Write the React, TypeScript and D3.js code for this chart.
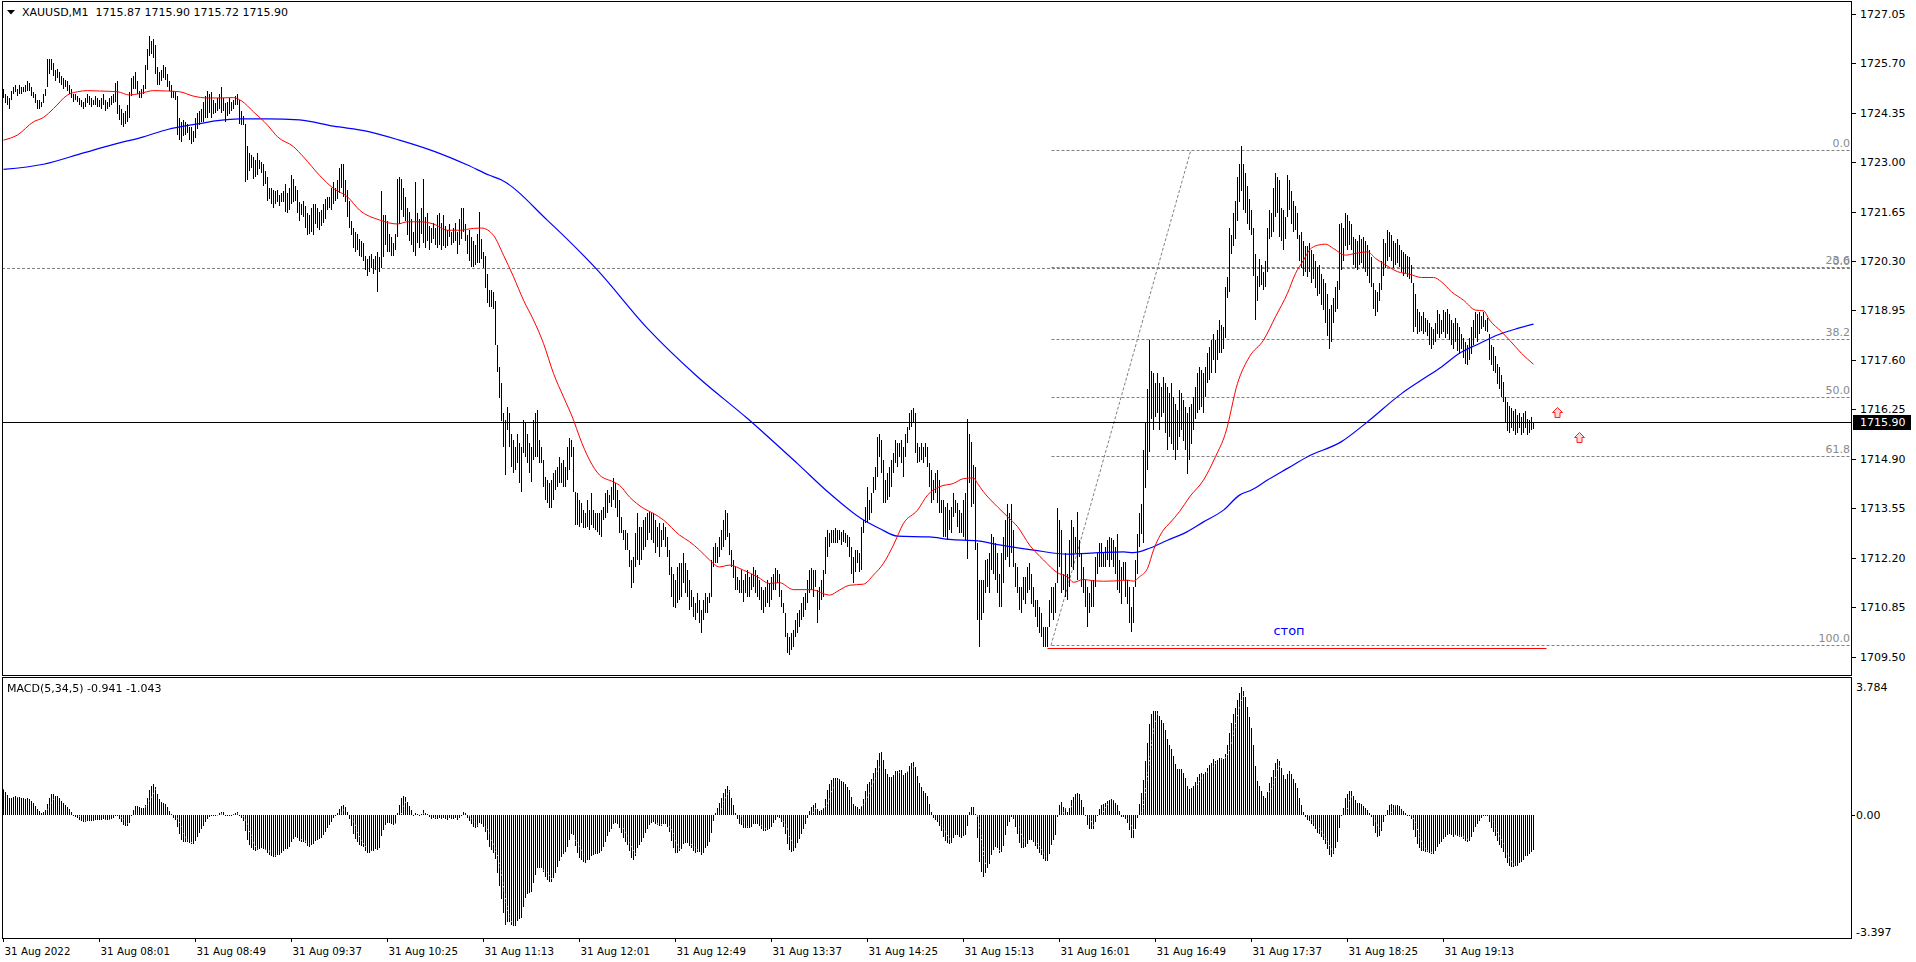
import React, { useEffect } from 'react';
import * as d3 from 'd3';

// ---------- price bars [high, low], one per minute, bar index 0..765 ----------
const bars000: [number, number][] = [
  [1725.0,1724.75],[1724.85,1724.6],[1724.8,1724.55],[1724.75,1724.45],[1724.95,1724.7],[1725.05,1724.85],[1725.1,1724.9],[1725.0,1724.8],[1725.1,1724.85],[1725.05,1724.85],
  [1725.05,1724.9],[1725.1,1724.9],[1725.2,1724.95],[1725.15,1724.95],[1725.05,1724.8],[1724.9,1724.75],[1724.85,1724.6],[1724.7,1724.45],[1724.7,1724.45],[1724.65,1724.5],
  [1724.85,1724.6],[1725.0,1724.8],[1725.8,1725.05],[1725.8,1725.4],[1725.8,1725.5],[1725.7,1725.35],[1725.5,1725.2],[1725.55,1725.3],[1725.45,1725.15],[1725.35,1725.1],
  [1725.3,1725.0],[1725.25,1725.05],[1725.2,1724.95],[1725.1,1724.85],[1725.0,1724.75],[1724.85,1724.65],[1724.85,1724.7],[1724.8,1724.65],[1724.75,1724.55],[1724.7,1724.5],
  [1724.65,1724.45],[1724.75,1724.5],[1724.85,1724.6],[1724.8,1724.55],[1724.75,1724.5],[1724.7,1724.55],[1724.8,1724.55],[1724.75,1724.5],[1724.7,1724.5],[1724.75,1724.45],
];
const bars050: [number, number][] = [
  [1724.85,1724.55],[1724.7,1724.4],[1724.65,1724.45],[1724.75,1724.5],[1724.8,1724.55],[1724.85,1724.6],[1725.15,1724.65],[1725.2,1724.3],[1724.55,1724.15],[1724.45,1724.0],
  [1724.35,1723.95],[1724.4,1724.05],[1724.55,1724.1],[1724.9,1724.2],[1725.3,1724.8],[1725.35,1725.0],[1725.45,1725.0],[1725.2,1724.85],[1724.95,1724.75],[1725.0,1724.75],
  [1725.1,1724.85],[1725.65,1725.0],[1726.1,1725.5],[1726.45,1725.9],[1726.3,1725.95],[1726.35,1725.85],[1726.2,1725.4],[1725.6,1725.1],[1725.45,1725.1],[1725.5,1725.2],
  [1725.65,1725.3],[1725.6,1725.25],[1725.4,1725.05],[1725.2,1724.95],[1725.1,1724.75],[1724.95,1724.75],[1724.9,1724.7],[1724.8,1723.75],[1724.2,1723.6],[1724.1,1723.55],
  [1724.15,1723.7],[1724.1,1723.75],[1724.05,1723.8],[1723.95,1723.6],[1723.95,1723.5],[1723.85,1723.55],[1724.2,1723.65],[1724.35,1723.9],[1724.4,1724.0],[1724.45,1724.1],
];
const bars100: [number, number][] = [
  [1724.65,1724.1],[1724.8,1724.2],[1724.95,1724.2],[1724.85,1724.35],[1724.9,1724.2],[1724.7,1724.3],[1724.6,1724.35],[1724.75,1724.4],[1724.85,1724.45],[1725.05,1724.35],
  [1724.75,1724.4],[1724.6,1724.1],[1724.65,1724.25],[1724.75,1724.3],[1724.65,1724.4],[1724.7,1724.45],[1724.8,1724.55],[1724.85,1724.55],[1724.7,1724.05],[1724.4,1724.0],
  [1724.25,1724.0],[1724.05,1722.45],[1723.45,1722.5],[1723.25,1722.75],[1723.2,1722.85],[1723.15,1722.55],[1723.05,1722.6],[1723.25,1722.65],[1723.05,1722.8],[1723.0,1722.7],
  [1722.95,1722.35],[1722.75,1722.4],[1722.6,1721.95],[1722.3,1722.0],[1722.3,1721.85],[1722.25,1721.75],[1722.2,1721.85],[1722.25,1721.9],[1722.1,1721.8],[1722.15,1721.9],
  [1722.2,1721.9],[1722.4,1721.65],[1722.15,1721.6],[1722.3,1721.7],[1722.65,1721.85],[1722.55,1721.9],[1722.35,1721.95],[1722.25,1721.6],[1721.9,1721.4],[1721.85,1721.55],
];
const bars150: [number, number][] = [
  [1721.95,1721.5],[1721.8,1721.2],[1721.6,1721.0],[1721.55,1721.05],[1721.75,1721.1],[1721.85,1721.0],[1721.85,1721.3],[1721.75,1721.2],[1721.65,1721.15],[1721.7,1721.25],
  [1721.85,1721.35],[1722.0,1721.45],[1722.05,1721.7],[1722.05,1721.75],[1722.3,1721.7],[1722.45,1721.85],[1722.3,1721.95],[1722.5,1722.0],[1722.85,1722.15],[1722.95,1722.3],
  [1722.95,1722.05],[1722.5,1721.9],[1722.25,1721.5],[1721.95,1721.2],[1721.4,1721.0],[1721.2,1720.65],[1721.1,1720.55],[1721.05,1720.6],[1720.9,1720.45],[1720.85,1720.4],
  [1720.8,1720.3],[1720.45,1720.05],[1720.35,1719.9],[1720.45,1720.0],[1720.5,1720.1],[1720.35,1719.95],[1720.45,1720.05],[1720.55,1719.45],[1720.4,1720.0],[1722.2,1720.1],
  [1721.55,1720.4],[1721.55,1720.75],[1721.4,1720.55],[1721.05,1720.55],[1720.95,1720.45],[1720.8,1720.45],[1721.05,1720.6],[1722.55,1720.95],[1722.6,1721.3],[1722.55,1721.7],
];
const bars200: [number, number][] = [
  [1722.3,1721.5],[1722.05,1721.4],[1721.75,1721.0],[1721.65,1720.85],[1721.45,1720.75],[1721.1,1720.55],[1722.45,1720.45],[1721.6,1720.8],[1721.45,1720.65],[1721.75,1721.05],
  [1722.55,1720.8],[1721.5,1720.65],[1721.6,1720.85],[1721.25,1720.6],[1721.2,1720.8],[1721.35,1720.9],[1721.2,1720.75],[1721.55,1720.65],[1721.6,1720.75],[1721.35,1720.6],
  [1721.55,1720.7],[1721.25,1720.65],[1721.15,1720.7],[1721.3,1720.95],[1721.1,1720.75],[1721.2,1720.8],[1721.35,1720.85],[1721.1,1720.5],[1721.45,1720.75],[1721.75,1720.9],
  [1721.75,1721.1],[1721.3,1720.85],[1721.0,1720.5],[1721.15,1720.3],[1720.95,1720.15],[1720.85,1720.15],[1720.75,1720.2],[1721.05,1720.25],[1721.65,1720.25],[1720.9,1720.35],
  [1720.55,1720.1],[1720.45,1719.55],[1719.95,1719.15],[1719.5,1719.05],[1719.5,1719.05],[1719.45,1719.0],[1719.2,1718.0],[1718.0,1717.28],[1717.41,1716.55],[1716.96,1715.93],
];
const bars250: [number, number][] = [
  [1716.14,1715.23],[1715.96,1714.46],[1716.32,1715.69],[1716.14,1715.23],[1715.59,1714.69],[1715.41,1714.51],[1715.23,1714.6],[1715.59,1714.78],[1715.32,1714.23],[1715.23,1714.0],
  [1715.96,1715.05],[1715.87,1714.96],[1715.59,1714.78],[1715.32,1714.51],[1715.23,1714.28],[1715.96,1714.87],[1716.14,1714.96],[1716.23,1714.96],[1715.41,1714.78],[1715.23,1714.78],
  [1714.87,1714.14],[1714.41,1713.78],[1714.32,1713.69],[1714.23,1713.55],[1714.32,1713.55],[1714.51,1713.78],[1714.6,1714.05],[1714.69,1714.14],[1714.96,1714.23],[1714.78,1714.23],
  [1714.87,1714.14],[1714.69,1714.14],[1715.23,1714.32],[1715.46,1714.6],[1715.41,1714.96],[1715.23,1714.0],[1714.0,1713.09],[1713.96,1713.09],[1713.78,1713.05],[1713.69,1713.14],
  [1713.51,1713.0],[1713.41,1713.0],[1713.78,1713.05],[1713.51,1712.96],[1713.96,1713.09],[1713.51,1713.0],[1713.41,1712.96],[1713.41,1712.91],[1713.41,1712.82],[1713.51,1712.78],
];
const bars300: [number, number][] = [
  [1713.59,1713.23],[1713.96,1713.28],[1714.05,1713.41],[1713.91,1713.69],[1714.14,1713.59],[1714.37,1713.78],[1714.23,1713.55],[1714.05,1713.32],[1713.78,1712.87],[1713.32,1712.87],
  [1712.96,1712.68],[1712.96,1712.41],[1712.87,1712.41],[1712.41,1711.95],[1712.14,1711.37],[1712.23,1711.5],[1712.87,1711.95],[1713.41,1712.14],[1713.05,1712.0],[1713.05,1712.14],
  [1713.23,1712.41],[1713.32,1712.5],[1713.41,1712.68],[1713.46,1712.87],[1713.41,1712.68],[1713.41,1712.59],[1713.23,1712.32],[1713.05,1712.5],[1713.14,1712.23],[1712.96,1712.5],
  [1713.14,1712.68],[1713.05,1712.5],[1712.78,1712.23],[1712.41,1711.73],[1711.95,1711.14],[1711.77,1710.86],[1711.59,1710.82],[1711.95,1710.96],[1712.05,1711.04],[1712.05,1711.14],
  [1712.32,1711.5],[1712.05,1711.23],[1711.87,1711.14],[1711.59,1710.77],[1711.32,1710.86],[1711.14,1710.59],[1710.96,1710.5],[1711.23,1710.68],[1711.04,1710.41],[1710.77,1710.14],
];
const bars350: [number, number][] = [
  [1711.04,1710.5],[1711.23,1710.68],[1711.14,1710.68],[1711.23,1710.96],[1712.14,1711.14],[1712.5,1711.95],[1712.59,1712.05],[1712.5,1712.05],[1712.78,1712.23],[1712.96,1712.41],
  [1713.23,1712.5],[1713.51,1712.68],[1713.41,1712.78],[1712.87,1712.27],[1712.41,1711.95],[1712.14,1711.64],[1711.95,1711.32],[1711.68,1711.32],[1711.59,1711.23],[1711.87,1711.23],
  [1711.59,1711.0],[1711.77,1711.23],[1711.87,1711.14],[1711.68,1711.14],[1711.77,1711.32],[1711.95,1711.41],[1711.87,1711.23],[1711.73,1711.14],[1711.59,1711.04],[1711.41,1710.77],
  [1711.32,1710.68],[1711.41,1710.86],[1711.59,1710.96],[1711.5,1710.86],[1711.68,1711.04],[1711.77,1711.32],[1711.91,1711.32],[1711.87,1711.5],[1711.77,1711.14],[1711.32,1710.86],
  [1710.96,1710.68],[1710.68,1710.05],[1710.14,1709.59],[1710.05,1709.55],[1710.14,1709.68],[1710.23,1709.77],[1710.5,1710.05],[1710.68,1710.14],[1710.77,1710.32],[1710.96,1710.5],
];
const bars400: [number, number][] = [
  [1711.14,1710.59],[1711.23,1710.77],[1711.59,1710.96],[1711.87,1711.23],[1711.91,1711.32],[1711.87,1711.14],[1711.87,1711.41],[1711.32,1710.41],[1711.41,1710.77],[1711.59,1711.04],
  [1711.87,1711.14],[1712.78,1711.77],[1712.96,1712.23],[1712.87,1712.5],[1712.96,1712.59],[1712.96,1712.59],[1713.0,1712.59],[1712.96,1712.59],[1712.96,1712.68],[1712.91,1712.55],
  [1712.96,1712.64],[1712.87,1712.59],[1712.82,1712.5],[1712.78,1712.23],[1712.5,1711.77],[1712.23,1711.5],[1712.41,1711.82],[1712.41,1712.05],[1712.32,1711.82],[1713.05,1711.87],
  [1713.23,1712.87],[1713.59,1713.14],[1714.14,1713.14],[1713.78,1713.23],[1713.96,1713.41],[1714.41,1713.96],[1714.69,1714.05],[1715.51,1714.41],[1715.59,1714.96],[1715.41,1714.51],
  [1714.87,1713.69],[1714.32,1713.69],[1714.51,1713.78],[1714.69,1713.87],[1714.87,1714.14],[1715.05,1714.51],[1715.41,1714.78],[1715.32,1714.69],[1715.32,1714.96],[1715.41,1714.78],
];
const bars450: [number, number][] = [
  [1715.23,1714.41],[1715.59,1714.96],[1715.78,1715.32],[1716.14,1715.69],[1716.23,1715.78],[1716.28,1715.87],[1716.14,1715.05],[1715.32,1714.78],[1715.23,1714.82],[1715.32,1714.87],
  [1715.23,1714.78],[1715.32,1714.96],[1715.23,1714.69],[1714.78,1714.14],[1714.6,1713.69],[1714.32,1713.78],[1714.51,1713.96],[1714.6,1713.69],[1714.32,1713.41],[1713.78,1713.41],
  [1713.78,1712.78],[1713.59,1712.78],[1713.69,1712.68],[1713.51,1712.96],[1713.59,1712.87],[1713.96,1713.32],[1713.78,1713.41],[1713.69,1713.05],[1713.51,1712.87],[1713.41,1712.87],
  [1713.78,1712.78],[1713.96,1712.68],[1716.0,1712.18],[1715.59,1714.23],[1715.37,1713.59],[1714.73,1713.68],[1714.68,1712.41],[1712.59,1710.5],[1711.59,1709.77],[1711.59,1710.5],
  [1711.59,1710.68],[1712.14,1711.23],[1712.18,1711.41],[1712.32,1711.23],[1712.86,1711.86],[1712.77,1711.77],[1712.59,1711.59],[1712.32,1711.23],[1711.77,1710.86],[1712.32,1710.86],
];
const bars500: [number, number][] = [
  [1712.77,1711.5],[1713.23,1712.14],[1713.68,1712.23],[1713.41,1711.95],[1713.68,1712.32],[1712.96,1711.95],[1712.05,1711.41],[1711.95,1711.23],[1711.41,1710.77],[1711.41,1710.68],
  [1711.68,1711.04],[1711.68,1710.95],[1711.95,1711.23],[1712.05,1711.32],[1711.77,1710.95],[1711.41,1710.86],[1711.04,1710.59],[1711.04,1710.32],[1710.86,1710.14],[1710.68,1710.05],
  [1710.32,1709.77],[1710.32,1709.77],[1710.32,1709.77],[1711.04,1710.32],[1711.41,1710.68],[1711.41,1710.5],[1711.5,1710.68],[1713.55,1711.5],[1713.23,1711.95],[1712.96,1711.23],
  [1711.77,1711.32],[1712.32,1711.14],[1711.77,1711.04],[1712.68,1711.41],[1713.23,1711.95],[1713.05,1711.86],[1712.77,1712.32],[1713.46,1711.59],[1712.68,1712.23],[1712.32,1711.41],
  [1711.95,1711.23],[1711.59,1710.86],[1711.41,1710.32],[1711.23,1710.68],[1711.59,1710.86],[1711.59,1710.86],[1712.23,1711.41],[1712.32,1711.77],[1712.59,1711.95],[1712.59,1711.95],
];
const bars550: [number, number][] = [
  [1712.32,1711.95],[1712.5,1711.95],[1712.68,1712.14],[1712.77,1711.95],[1712.73,1712.14],[1712.68,1711.95],[1712.5,1711.77],[1712.86,1711.32],[1712.14,1711.23],[1711.95,1710.95],
  [1712.09,1711.59],[1712.09,1711.14],[1711.59,1710.95],[1711.41,1710.41],[1710.86,1710.18],[1711.41,1710.41],[1712.14,1711.41],[1712.86,1711.77],[1713.41,1712.5],[1713.68,1712.86],
  [1715.14,1712.6],[1715.9,1714.1],[1716.8,1714.6],[1718.15,1715.1],[1717.3,1716.0],[1717.23,1715.69],[1716.96,1716.05],[1717.23,1716.14],[1716.96,1715.69],[1716.87,1716.05],
  [1717.14,1716.14],[1716.96,1715.6],[1716.87,1715.14],[1716.69,1715.5],[1716.96,1715.3],[1716.6,1715.14],[1716.41,1714.87],[1716.23,1715.14],[1716.78,1715.5],[1716.69,1715.69],
  [1716.5,1715.4],[1716.32,1715.14],[1716.14,1714.5],[1716.32,1714.87],[1716.41,1715.3],[1716.6,1715.69],[1716.87,1716.0],[1717.23,1716.14],[1717.41,1716.23],[1717.32,1716.32],
];
const bars600: [number, number][] = [
  [1717.23,1716.14],[1717.41,1716.6],[1717.78,1716.96],[1717.96,1717.05],[1718.14,1717.23],[1718.32,1717.6],[1718.14,1717.23],[1718.41,1717.6],[1718.69,1717.78],[1718.55,1717.8],
  [1718.5,1717.9],[1719.6,1718.2],[1719.85,1719.3],[1721.2,1719.45],[1721.0,1720.5],[1721.6,1720.7],[1721.95,1720.9],[1722.6,1721.4],[1722.95,1721.9],[1723.45,1722.2],
  [1722.95,1721.7],[1722.7,1721.6],[1722.35,1721.3],[1722.0,1721.15],[1721.7,1721.0],[1721.2,1719.9],[1720.5,1718.7],[1719.9,1719.2],[1720.35,1719.6],[1720.2,1719.65],
  [1720.0,1719.5],[1720.3,1719.6],[1721.2,1720.0],[1721.7,1720.9],[1721.6,1720.95],[1722.3,1721.1],[1722.7,1721.5],[1722.6,1721.6],[1722.5,1720.95],[1721.75,1720.85],
  [1721.7,1720.6],[1721.5,1720.9],[1722.65,1721.5],[1722.5,1721.7],[1722.2,1721.3],[1721.95,1721.1],[1721.8,1721.15],[1721.6,1720.9],[1721.0,1720.3],[1721.1,1720.1],
];
const bars650: [number, number][] = [
  [1720.85,1719.9],[1720.7,1720.0],[1720.7,1719.85],[1720.8,1720.0],[1720.6,1719.7],[1720.5,1719.8],[1720.3,1719.55],[1720.15,1719.35],[1720.2,1719.4],[1719.95,1719.1],
  [1719.8,1718.95],[1719.7,1718.6],[1719.4,1718.25],[1719.0,1717.9],[1719.1,1718.1],[1719.3,1718.6],[1719.6,1718.9],[1719.75,1719.0],[1721.3,1719.5],[1721.35,1720.05],
  [1721.2,1720.3],[1721.6,1720.7],[1721.55,1720.6],[1721.4,1720.75],[1721.3,1720.6],[1720.95,1720.2],[1720.9,1720.1],[1720.85,1720.05],[1721.0,1720.2],[1720.9,1720.25],
  [1720.95,1720.1],[1720.85,1720.0],[1720.75,1719.9],[1720.6,1719.7],[1720.4,1719.6],[1719.7,1719.0],[1719.5,1718.8],[1719.45,1718.9],[1719.7,1719.2],[1720.3,1719.5],
  [1720.9,1719.9],[1720.8,1720.1],[1721.15,1720.3],[1721.1,1720.4],[1721.0,1720.3],[1720.85,1720.1],[1720.8,1720.2],[1720.9,1720.25],[1720.75,1720.15],[1720.6,1720.0],
];
const bars700: [number, number][] = [
  [1720.55,1719.9],[1720.5,1719.95],[1720.45,1719.85],[1720.4,1719.8],[1720.2,1719.7],[1719.7,1718.35],[1719.4,1718.5],[1719.0,1718.3],[1718.9,1718.35],[1718.8,1718.4],
  [1718.9,1718.3],[1718.75,1718.35],[1718.7,1718.25],[1718.6,1718.0],[1718.5,1717.9],[1718.45,1718.0],[1718.6,1718.1],[1718.95,1718.3],[1718.85,1718.2],[1718.7,1718.3],
  [1718.95,1718.35],[1718.9,1718.2],[1719.0,1718.3],[1718.85,1718.15],[1718.7,1718.0],[1718.6,1717.9],[1718.75,1718.1],[1718.6,1717.85],[1718.5,1717.75],[1718.3,1717.9],
  [1718.2,1717.65],[1718.1,1717.5],[1718.0,1717.45],[1718.2,1717.6],[1718.5,1717.75],[1718.7,1718.0],[1718.9,1718.2],[1718.85,1718.1],[1718.9,1718.3],[1718.8,1718.45],
  [1718.9,1718.5],[1718.7,1718.4],[1718.75,1718.35],[1718.3,1717.6],[1718.0,1717.45],[1717.95,1717.3],[1717.7,1717.25],[1717.5,1716.95],[1717.4,1716.8],[1717.2,1716.6],
  [1717.0,1716.45],[1716.6,1715.9],[1716.45,1715.65],[1716.35,1715.6],[1716.3,1715.75],[1716.2,1715.65],[1716.25,1715.55],[1716.1,1715.6],[1716.15,1715.75],[1716.05,1715.55],
  [1716.15,1715.6],[1716.2,1715.75],[1716.0,1715.55],[1715.95,1715.6],[1716.05,1715.7],[1715.9,1715.72],
];

// ---------- moving averages: [bar index, price] ----------
const redMA: [number, number][] = [
  [0,1723.6],[7,1723.74],[15,1724.1],[20,1724.22],[25,1724.46],[32,1724.83],[37,1724.92],[42,1724.95],[48,1724.94],[57,1724.92],
  [63,1724.83],[68,1724.87],[75,1724.95],[82,1724.94],[88,1724.92],[95,1724.8],[102,1724.75],[108,1724.75],[115,1724.76],[119,1724.67],
  [125,1724.37],[132,1724.01],[137,1723.69],[145,1723.42],[150,1723.14],[158,1722.64],[165,1722.28],[172,1722.05],[178,1721.69],[188,1721.42],
  [197,1721.31],[202,1721.37],[208,1721.37],[215,1721.31],[222,1721.14],[228,1721.14],[235,1721.19],[239,1721.2],[245,1721.0],[250,1720.46],
  [255,1719.87],[260,1719.23],[265,1718.69],[270,1718.05],[275,1717.23],[280,1716.59],[285,1715.96],[288,1715.5],[293,1714.87],[298,1714.46],
  [305,1714.27],[308,1714.18],[313,1713.86],[320,1713.55],[325,1713.41],[330,1713.23],[338,1712.82],[343,1712.64],[348,1712.41],[353,1712.14],
  [358,1711.95],[363,1712.0],[370,1711.86],[377,1711.68],[383,1711.5],[388,1711.52],[395,1711.33],[404,1711.33],[413,1711.18],[418,1711.32],
  [423,1711.45],[430,1711.48],[435,1711.73],[440,1712.05],[445,1712.55],[450,1713.14],[457,1713.5],[462,1713.91],[468,1714.14],[475,1714.23],
  [480,1714.36],[485,1714.38],[487,1714.23],[490,1714.0],[497,1713.59],[502,1713.32],[507,1713.05],[513,1712.55],[520,1712.14],[527,1711.79],
  [532,1711.68],[535,1711.53],[540,1711.61],[545,1711.57],[550,1711.56],[557,1711.57],[562,1711.59],[565,1711.56],[568,1711.68],[572,1711.91],
  [575,1712.41],[580,1712.96],[583,1713.14],[588,1713.46],[593,1713.86],[600,1714.32],[606,1714.96],[611,1715.6],[617,1716.96],[623,1717.69],
  [630,1718.14],[636,1718.78],[642,1719.42],[646,1719.96],[650,1720.32],[653,1720.6],[657,1720.73],[661,1720.76],[665,1720.64],[671,1720.46],
  [676,1720.51],[682,1720.55],[686,1720.37],[690,1720.23],[697,1720.01],[703,1719.94],[709,1719.85],[715,1719.85],[719,1719.73],[724,1719.46],
  [730,1719.23],[736,1718.96],[740,1718.94],[743,1718.69],[749,1718.37],[753,1718.14],[759,1717.78],[765,1717.48],
];
const blueMA: [number, number][] = [
  [0,1722.8],[20,1722.94],[40,1723.25],[57,1723.51],[70,1723.69],[82,1723.89],[98,1724.05],[107,1724.13],[118,1724.18],[132,1724.18],
  [148,1724.15],[165,1723.98],[182,1723.84],[198,1723.6],[215,1723.3],[232,1722.92],[243,1722.64],[249,1722.51],[272,1721.41],[297,1720.05],
  [322,1718.46],[347,1717.14],[372,1716.0],[397,1714.77],[413,1713.96],[430,1713.23],[438,1713.0],[447,1712.79],[463,1712.77],[473,1712.7],
  [487,1712.66],[498,1712.55],[515,1712.41],[532,1712.3],[548,1712.34],[560,1712.36],[565,1712.34],[573,1712.46],[582,1712.68],[590,1712.86],
  [600,1713.18],[610,1713.5],[618,1713.91],[624,1714.05],[632,1714.32],[642,1714.64],[652,1714.96],[669,1715.37],[682,1715.91],[699,1716.68],
  [709,1717.05],[719,1717.41],[728,1717.78],[738,1718.05],[747,1718.28],[757,1718.46],[765,1718.58],
];

// ---------- axes ----------
const priceTicks = [1727.05, 1725.70, 1724.35, 1723.00, 1721.65, 1720.30, 1718.95, 1717.60, 1716.25, 1714.90, 1713.55, 1712.20, 1710.85, 1709.50];
const timeLabels = ['31 Aug 2022', '31 Aug 08:01', '31 Aug 08:49', '31 Aug 09:37', '31 Aug 10:25', '31 Aug 11:13', '31 Aug 12:01', '31 Aug 12:49',
  '31 Aug 13:37', '31 Aug 14:25', '31 Aug 15:13', '31 Aug 16:01', '31 Aug 16:49', '31 Aug 17:37', '31 Aug 18:25', '31 Aug 19:13'];
const timeLabelBars = [0, 48, 96, 144, 192, 240, 288, 336, 384, 432, 480, 528, 576, 624, 672, 720];
const macdMax = 3.784;
const macdMin = -3.397;
const macdTickLabels = ['3.784', '0.00', '-3.397'];
const macdStartValue = 0.7; // MACD value of the first visible bar

// ---------- objects ----------
const fibLevels = [0, 23.6, 38.2, 50, 61.8, 100];
const fibLabels = ['0.0', '23.6', '38.2', '50.0', '61.8', '100.0'];
const fibHigh = 1723.34;
const fibLow = 1709.81;
const fibLowBar = 524;
const fibHighBar = 594;
const extraLevelPrice = 1720.10;
const currentPrice = 1715.90;
const stopPrice = 1709.73;
const stopFromBar = 522;
const stopToBar = 771.5;
const stopText = 'стоп';
const stopTextBar = 643;
const stopTextPrice = 1710.08;
const arrowMarks: [number, number][] = [[777, 1716.32], [788, 1715.64]];

const headerText = 'XAUUSD,M1  1715.87 1715.90 1715.72 1715.90';
const macdHeader = 'MACD(5,34,5) -0.941 -1.043';

const allBars: [number, number][] = [
  ...bars000, ...bars050, ...bars100, ...bars150, ...bars200, ...bars250, ...bars300, ...bars350,
  ...bars400, ...bars450, ...bars500, ...bars550, ...bars600, ...bars650, ...bars700,
];

function ema(vals: number[], n: number, seed: number) {
  const k = 2 / (n + 1);
  const out: number[] = [];
  vals.forEach((v, i) => out.push(i === 0 ? seed : out[i - 1] + k * (v - out[i - 1])));
  return out;
}

const FONT = '"DejaVu Sans", Verdana, sans-serif';

export default function App() {
  useEffect(() => { document.body.style.margin = '0'; }, []);

  const W = 1916, H = 962;
  const PL = 2, PR = 1852, MT = 1, MB = 675, ST = 677, SB = 938;

  const x = d3.scaleLinear().domain([0, 765]).range([3, 1533]);
  const yP = d3.scaleLinear().domain([1709.5, 1727.05]).range([656.7, 13.7]);
  const yM = d3.scaleLinear().domain([macdMin, macdMax]).range([938.5, 677]);
  const px = (i: number) => Math.round(x(i)) + 0.5;
  const py = (p: number) => Math.round(yP(p)) + 0.5;

  // bars
  let barPath = '';
  allBars.forEach(([h, l], i) => {
    const y1 = Math.round(yP(h));
    const y2 = Math.max(Math.round(yP(l)), y1 + 1);
    barPath += `M${px(i)},${y1}V${y2}`;
  });

  // MACD (5,34) from bar mid prices, signal = SMA 5
  const mids = allBars.map(([h, l]) => (h + l) / 2);
  const e5 = ema(mids, 5, mids[0]);
  const e34 = ema(mids, 34, mids[0] - macdStartValue);
  const macd = mids.map((_, i) => e5[i] - e34[i]);
  const signal = macd.map((_, i) => d3.mean(macd.slice(Math.max(0, i - 4), i + 1)) as number);
  const z = Math.round(yM(0));
  let histPath = '';
  macd.forEach((v, i) => {
    const yv = Math.round(yM(v));
    if (yv === z) histPath += `M${px(i)},${z}V${z + 1}`;
    else histPath += `M${px(i)},${Math.min(z, yv)}V${Math.max(z, yv)}`;
  });
  const sigLine = d3.line<number>().x((_, i) => x(i) + 0.5).y((v) => yM(v))(signal) || '';

  const maLine = d3.line<[number, number]>().x((d) => x(d[0]) + 0.5).y((d) => yP(d[1])).curve(d3.curveMonotoneX);

  const fibPrice = (lvl: number) => fibHigh - (fibHigh - fibLow) * lvl / 100;

  const arrowPath = (cx: number, top: number) =>
    `M${cx},${top} L${cx + 5},${top + 5} L${cx + 2.5},${top + 5} L${cx + 2.5},${top + 10} L${cx - 2.5},${top + 10} L${cx - 2.5},${top + 5} L${cx - 5},${top + 5} Z`;

  return (
    <svg width={W} height={H} style={{ position: 'absolute', left: 0, top: 0, display: 'block' }} fontFamily={FONT}>
      <defs>
        <clipPath id="mainClip"><rect x={PL} y={MT} width={PR - PL} height={MB - MT} /></clipPath>
        <clipPath id="subClip"><rect x={PL} y={ST} width={PR - PL} height={SB - ST} /></clipPath>
      </defs>
      <rect x={0} y={0} width={W} height={H} fill="#ffffff" />

      {/* main panel */}
      <g clipPath="url(#mainClip)">
        <line x1={PL} x2={PR} y1={py(extraLevelPrice)} y2={py(extraLevelPrice)} stroke="#808080" strokeDasharray="3,2" />
        {fibLevels.map((lvl) => (
          <line key={lvl} x1={px(fibLowBar)} x2={PR} y1={py(fibPrice(lvl))} y2={py(fibPrice(lvl))} stroke="#808080" strokeDasharray="3,2" />
        ))}
        <line x1={x(fibLowBar)} y1={yP(fibLow)} x2={x(fibHighBar)} y2={yP(fibHigh)} stroke="#808080" strokeDasharray="3,2" />
        <line x1={PL} x2={PR} y1={py(currentPrice)} y2={py(currentPrice)} stroke="#000" />
        <line x1={px(stopFromBar)} x2={px(stopToBar)} y1={py(stopPrice)} y2={py(stopPrice)} stroke="#ff0000" />
        <text x={x(stopTextBar)} y={yP(stopTextPrice)} fill="#0000ff" fontSize={13} textAnchor="middle">{stopText}</text>

        <path d={barPath} stroke="#000" strokeWidth={1} fill="none" shapeRendering="crispEdges" />
        <path d={maLine(blueMA) || ''} stroke="#0000ff" strokeWidth={1.2} fill="none" />
        <path d={maLine(redMA) || ''} stroke="#ff0000" strokeWidth={1} fill="none" />

        {arrowMarks.map(([b, p], k) => (
          <path key={k} d={arrowPath(Math.round(x(b)) + 0.5, Math.round(yP(p)) + 0.5)} fill="#ffd6d6" stroke="#ff2020" strokeWidth={1} />
        ))}

        {fibLabels.map((t, k) => (
          <text key={t} x={PR - 2} y={yP(fibPrice(fibLevels[k])) - 3} fontSize={11} fill="#8a8a8a" textAnchor="end">{t}</text>
        ))}
        <text x={PR - 2} y={yP(extraLevelPrice) - 3} fontSize={11} fill="#8a8a8a" textAnchor="end">0.0</text>

        <path d="M7,10 L15,10 L11,14.5 Z" fill="#000" />
        <text x={22} y={16} fontSize={11} fill="#000" style={{ whiteSpace: 'pre' }}>{headerText}</text>
      </g>
      <rect x={PL + 0.5} y={MT + 0.5} width={PR - PL - 1} height={MB - MT} fill="none" stroke="#000" />

      {/* MACD panel */}
      <g clipPath="url(#subClip)">
        <path d={histPath} stroke="#000" strokeWidth={1} fill="none" shapeRendering="crispEdges" />
        <path d={sigLine} stroke="#fff" strokeWidth={1} fill="none" strokeDasharray="1,3" style={{ mixBlendMode: 'difference' }} />
        <text x={7} y={692} fontSize={11} fill="#000">{macdHeader}</text>
      </g>
      <rect x={PL + 0.5} y={ST + 0.5} width={PR - PL - 1} height={SB - ST} fill="none" stroke="#000" />

      {/* price axis */}
      {priceTicks.map((p) => (
        <g key={p}>
          <line x1={PR} x2={PR + 4} y1={py(p)} y2={py(p)} stroke="#000" />
          <text x={1860} y={yP(p) + 4} fontSize={11} fill="#000">{p.toFixed(2)}</text>
        </g>
      ))}
      <rect x={1853} y={Math.round(yP(currentPrice)) - 7} width={58} height={15} fill="#000" />
      <text x={1860} y={yP(currentPrice) + 4} fontSize={11} fill="#fff">{currentPrice.toFixed(2)}</text>

      {/* MACD axis */}
      <line x1={PR} x2={PR + 3} y1={Math.round(yM(0)) + 0.5} y2={Math.round(yM(0)) + 0.5} stroke="#000" />
      <text x={1856} y={691} fontSize={11} fill="#000">{macdTickLabels[0]}</text>
      <text x={1856} y={yM(0) + 4} fontSize={11} fill="#000">{macdTickLabels[1]}</text>
      <text x={1856} y={936} fontSize={11} fill="#000">{macdTickLabels[2]}</text>

      {/* time axis */}
      {timeLabelBars.map((b, k) => (
        <g key={b}>
          <line x1={px(b)} x2={px(b)} y1={SB} y2={SB + 4} stroke="#000" />
          <text x={px(b) + 1} y={955} fontSize={10.3} fill="#000">{timeLabels[k]}</text>
        </g>
      ))}
    </svg>
  );
}
